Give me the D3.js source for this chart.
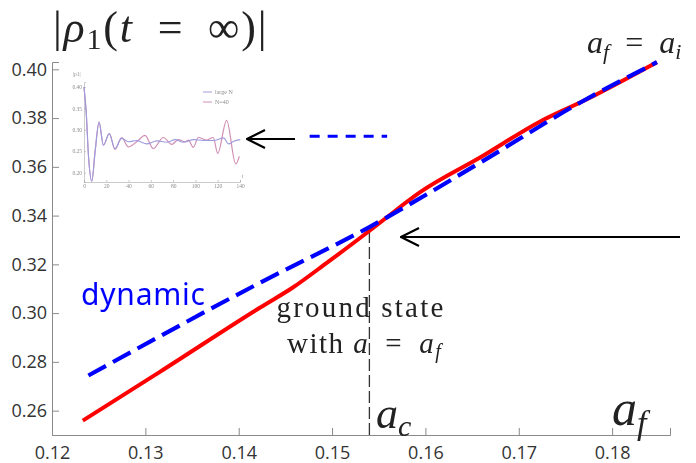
<!DOCTYPE html>
<html>
<head>
<meta charset="utf-8">
<script src="https://cdnjs.cloudflare.com/ajax/libs/d3/7.8.5/d3.min.js"></script>
<style>
  body { margin: 0; background: #fff; }
  svg { display: block; }
  .tick text { font-family: "Open Sans", sans-serif; fill: #333; }
  .math { font-family: "Liberation Serif", serif; fill: #222; }
</style>
</head>
<body>
<div id="chart"></div>
<script>
// main curves : ground state (red) and dynamic (blue dashed)
var redX  = [0.1233, 0.1316, 0.1423, 0.1458, 0.1495, 0.1530, 0.1555, 0.1594, 0.1659, 0.1723, 0.1773, 0.1848];
var redY  = [0.2559, 0.2760, 0.3023, 0.3105, 0.3208, 0.3308, 0.3382, 0.3495, 0.3639, 0.3786, 0.3877, 0.4029];
var blueX = [0.1239, 0.1423, 0.1541, 0.1659, 0.1766, 0.1848];
var blueY = [0.2744, 0.3125, 0.3355, 0.3618, 0.3864, 0.4029];

var xTicks = [0.12, 0.13, 0.14, 0.15, 0.16, 0.17, 0.18];
var yTicks = [0.26, 0.28, 0.30, 0.32, 0.34, 0.36, 0.38, 0.40];
var aCritical = 0.154;
var dynamicLevel = 0.3725;

// inset : |rho1| against t
var insetT40 = [0, 2, 4, 7, 10, 13.5, 17.4, 22.7, 27.8, 33.8, 39.8, 47.3, 54.8, 62.2, 71.2, 78.7, 84.7, 90.7, 93.6, 98.1, 102.6, 110, 116, 120, 128, 136.2, 139.4];
var insetN40 = [0.40, 0.34, 0.24, 0.18, 0.25, 0.318, 0.264, 0.291, 0.254, 0.282, 0.260, 0.272, 0.287, 0.256, 0.282, 0.266, 0.277, 0.272, 0.276, 0.259, 0.282, 0.276, 0.282, 0.245, 0.322, 0.220, 0.238];
var insetTLarge = [0, 2, 4, 7, 10, 13.5, 17.4, 22.7, 27.8, 33.8, 39.8, 47.3, 56.3, 65.3, 74.3, 81.8, 89.3, 98.3, 107.3, 116.3, 125.3, 129.8, 134.3, 140.3];
var insetLargeN = [0.40, 0.34, 0.24, 0.18, 0.25, 0.318, 0.264, 0.291, 0.256, 0.280, 0.272, 0.275, 0.267, 0.274, 0.271, 0.277, 0.271, 0.277, 0.275, 0.275, 0.281, 0.267, 0.273, 0.277];
var insetXTicks = [0, 20, 40, 60, 80, 100, 120, 140];
var insetYTicks = [0.20, 0.25, 0.30, 0.35, 0.40];

var W = 696, H = 463;

var svg = d3.select("#chart").append("svg")
    .attr("width", W)
    .attr("height", H);

var x = d3.scaleLinear().domain([0.12, 0.1862]).range([52, 670]);
var y = d3.scaleLinear().domain([0.25, 0.403]).range([435, 62]);

// axes (ticks pointing inside)
var gx = svg.append("g").attr("transform", "translate(0," + y(0.25) + ")");
gx.call(d3.axisBottom(x).tickValues(d3.range(0.122, 0.1861, 0.002)).tickSize(-4).tickFormat(""));
gx.call(d3.axisBottom(x).tickValues(xTicks).tickSize(-7).tickPadding(11).tickFormat(d3.format(".2f")));
gx.selectAll(".tick text").attr("font-size", 18);

var gy = svg.append("g").attr("transform", "translate(" + x(0.12) + ",0)");
gy.call(d3.axisLeft(y).tickValues(d3.range(0.255, 0.403, 0.005)).tickSize(-4).tickFormat(""));
gy.call(d3.axisLeft(y).tickValues(yTicks).tickSize(-7).tickPadding(5).tickFormat(d3.format(".2f")));
gy.selectAll(".tick text").attr("font-size", 18);

svg.selectAll(".domain").attr("stroke", "#8a8a8a");
svg.selectAll(".tick line").attr("stroke", "#8a8a8a");

// dashed vertical at a_c
svg.append("line")
    .attr("x1", x(aCritical)).attr("x2", x(aCritical))
    .attr("y1", y(0.25)).attr("y2", y(0.3345))
    .attr("stroke", "#333").attr("stroke-width", 1.3)
    .attr("stroke-dasharray", "12,4");

// curves
var redData = redX.map(function(d, i) { return [d, redY[i]]; });
var blueData = blueX.map(function(d, i) { return [d, blueY[i]]; });

var line = d3.line()
    .curve(d3.curveMonotoneX)
    .x(function(d) { return x(d[0]); })
    .y(function(d) { return y(d[1]); });

svg.append("path")
    .datum(redData)
    .attr("fill", "none")
    .attr("stroke", "#ff0000")
    .attr("stroke-width", 4)
    .attr("d", line);

svg.append("path")
    .datum(blueData)
    .attr("fill", "none")
    .attr("stroke", "#0000ff")
    .attr("stroke-width", 4.2)
    .attr("stroke-dasharray", "20,8")
    .attr("d", line);

// inset plot
var ix = d3.scaleLinear().domain([0, 140]).range([84, 240]);
var iy = d3.scaleLinear().domain([0.178, 0.4116]).range([182, 82]);
var inset = svg.append("g").attr("opacity", 0.85);

inset.append("defs").append("clipPath").attr("id", "insetClip")
  .append("rect").attr("x", 83).attr("y", 80).attr("width", 162).attr("height", 102);

var gix = inset.append("g").attr("transform", "translate(0," + iy(0.178) + ")");
gix.call(d3.axisBottom(ix).tickValues(insetXTicks).tickSize(-2).tickPadding(2).tickFormat(d3.format("d")));
var giy = inset.append("g").attr("transform", "translate(" + ix(0) + ",0)");
giy.call(d3.axisLeft(iy).tickValues(insetYTicks).tickSize(-2).tickPadding(2).tickFormat(d3.format(".2f")));
inset.selectAll(".domain").attr("stroke", "#999").attr("stroke-width", 0.6);
inset.selectAll(".tick line").attr("stroke", "#999").attr("stroke-width", 0.6);
inset.selectAll(".tick text")
    .attr("font-size", 5.5)
    .style("font-family", "Liberation Serif, serif")
    .style("fill", "#777");

inset.append("text").attr("class", "math")
    .attr("x", 73).attr("y", 76).attr("font-size", 5.5).style("fill", "#777")
    .text("|ρ1|");
inset.append("text").attr("class", "math")
    .attr("x", 242).attr("y", 178).attr("font-size", 5.5).style("fill", "#777")
    .text("t");

var iline = d3.line()
    .curve(d3.curveMonotoneX)
    .x(function(d) { return ix(d[0]); })
    .y(function(d) { return iy(d[1]); });

inset.append("path")
    .datum(insetT40.map(function(t, i) { return [t, insetN40[i]]; }))
    .attr("clip-path", "url(#insetClip)")
    .attr("fill", "none").attr("stroke", "#c77aa6").attr("stroke-width", 1.2)
    .attr("d", iline);
inset.append("path")
    .datum(insetTLarge.map(function(t, i) { return [t, insetLargeN[i]]; }))
    .attr("clip-path", "url(#insetClip)")
    .attr("fill", "none").attr("stroke", "#8c8ad8").attr("stroke-width", 1.1)
    .attr("d", iline);

// inset legend
var ileg = [["large N", "#8c8ad8"], ["N=40", "#c77aa6"]];
ileg.forEach(function(l, i) {
  inset.append("line")
      .attr("x1", 203).attr("x2", 212)
      .attr("y1", 92 + i * 10).attr("y2", 92 + i * 10)
      .attr("stroke", l[1]).attr("stroke-width", 1);
  inset.append("text").attr("class", "math")
      .attr("x", 215).attr("y", 94 + i * 10)
      .attr("font-size", 6).style("fill", "#777")
      .text(l[0]);
});

// arrows
svg.append("defs").append("marker")
    .attr("id", "head")
    .attr("viewBox", "0 0 20 20")
    .attr("refX", 19).attr("refY", 10)
    .attr("markerWidth", 20).attr("markerHeight", 20)
    .attr("markerUnits", "userSpaceOnUse")
    .attr("orient", "auto")
  .append("path")
    .attr("d", "M1,1 L19,10 L1,19")
    .attr("fill", "none").attr("stroke", "#000").attr("stroke-width", 2.2);

svg.append("line")
    .attr("x1", 295).attr("y1", 139).attr("x2", 247).attr("y2", 139)
    .attr("stroke", "#000").attr("stroke-width", 2.2)
    .attr("marker-end", "url(#head)");

svg.append("line")
    .attr("x1", x(0.1476)).attr("x2", x(0.1559))
    .attr("y1", y(dynamicLevel)).attr("y2", y(dynamicLevel))
    .attr("stroke", "#0000ff").attr("stroke-width", 3)
    .attr("stroke-dasharray", "10,8");

svg.append("line")
    .attr("x1", 680).attr("y1", 237).attr("x2", 401).attr("y2", 237)
    .attr("stroke", "#000").attr("stroke-width", 2.2)
    .attr("marker-end", "url(#head)");

// labels
var title = svg.append("text").attr("class", "math")
    .attr("x", 53).attr("y", 42).attr("font-size", 44)
    .attr("letter-spacing", 1.8);
title.append("tspan").text("|");
title.append("tspan").attr("font-style", "italic").text("ρ");
title.append("tspan").attr("font-size", 30).attr("dy", 7).text("1");
title.append("tspan").attr("dy", -7).text("(");
title.append("tspan").attr("font-style", "italic").text("t");
title.append("tspan").text("\u2002=\u2002∞)|");

var afai = svg.append("text").attr("class", "math")
    .attr("x", 587).attr("y", 53).attr("font-size", 32);
afai.append("tspan").attr("font-style", "italic").text("a");
afai.append("tspan").attr("font-style", "italic").attr("font-size", 22).attr("dy", 6).text("f");
afai.append("tspan").attr("dy", -6).text("\u2002=\u2002");
afai.append("tspan").attr("font-style", "italic").text("a");
afai.append("tspan").attr("font-style", "italic").attr("font-size", 22).attr("dy", 6).text("i");

svg.append("text")
    .attr("x", 81).attr("y", 305)
    .attr("font-family", "Noto Sans, sans-serif")
    .attr("font-size", 30)
    .attr("fill", "#0000ff")
    .attr("textLength", 124)
    .text("dynamic");

svg.append("text").attr("class", "math")
    .attr("x", 361).attr("y", 317).attr("font-size", 29)
    .attr("letter-spacing", 2.2)
    .attr("text-anchor", "middle")
    .text("ground state");
var gs = svg.append("text").attr("class", "math")
    .attr("x", 287).attr("y", 353).attr("font-size", 29)
    .attr("letter-spacing", 1.5);
gs.append("tspan").text("with ");
gs.append("tspan").attr("font-style", "italic").text("a");
gs.append("tspan").text("\u2002=\u2002");
gs.append("tspan").attr("font-style", "italic").text("a");
gs.append("tspan").attr("font-style", "italic").attr("font-size", 20).attr("dy", 5).text("f");

var ac = svg.append("text").attr("class", "math")
    .attr("x", 376).attr("y", 428).attr("font-size", 44);
ac.append("tspan").attr("font-style", "italic").text("a");
ac.append("tspan").attr("font-style", "italic").attr("font-size", 30).attr("dy", 8).text("c");

var af = svg.append("text").attr("class", "math")
    .attr("x", 612).attr("y", 425).attr("font-size", 50);
af.append("tspan").attr("font-style", "italic").text("a");
af.append("tspan").attr("font-style", "italic").attr("font-size", 34).attr("dy", 9).text("f");
</script>
</body>
</html>
